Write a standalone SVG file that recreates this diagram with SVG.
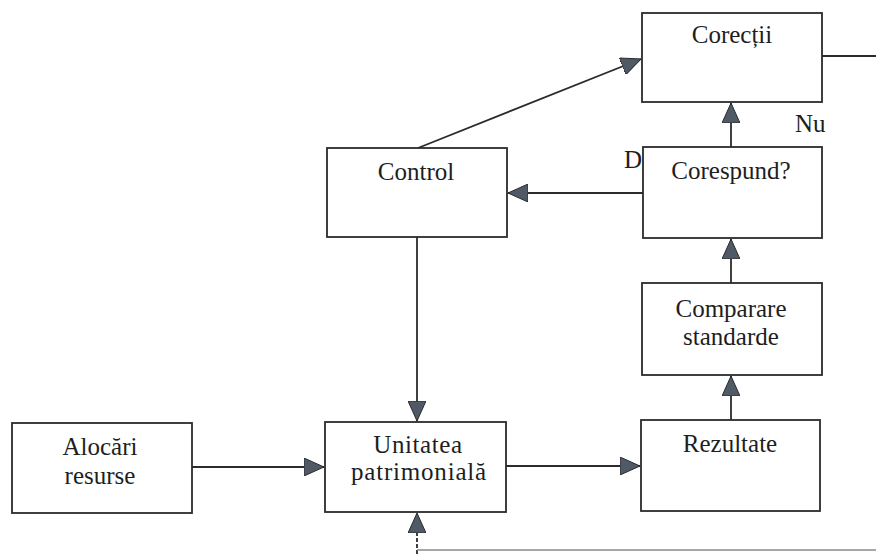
<svg xmlns="http://www.w3.org/2000/svg" width="876" height="554" viewBox="0 0 876 554">
<style>
.box{fill:#fff;stroke:#2b2b2b;stroke-width:1.8}
.t{font-family:'Liberation Serif',Tinos,'Times New Roman',Times,serif;font-size:25px;fill:#1e1e1e;text-anchor:middle}
.l{font-family:'Liberation Serif',Tinos,'Times New Roman',Times,serif;font-size:25px;fill:#1e1e1e}
.c{fill:none;stroke:#2b2b2b;stroke-width:1.8}
</style>
<defs>
<marker id="ah" markerUnits="userSpaceOnUse" markerWidth="20" markerHeight="18" refX="20" refY="9" orient="auto" viewBox="0 0 20 18">
<path d="M0,0 L20,9 L0,18 Z" fill="#4f5a66" stroke="#2b2b2b" stroke-width="1"/>
</marker>
</defs>
<rect width="876" height="554" fill="#fff"/>
<g id="connectors">
<line class="c" x1="418" y1="148" x2="641" y2="59" marker-end="url(#ah)"/>
<line class="c" x1="822" y1="56" x2="876" y2="56"/>
<line class="c" x1="731" y1="147" x2="731" y2="103" marker-end="url(#ah)"/>
<line class="c" x1="643" y1="193" x2="508" y2="193" marker-end="url(#ah)"/>
<line class="c" x1="731" y1="283" x2="731" y2="239" marker-end="url(#ah)"/>
<line class="c" x1="731" y1="420" x2="731" y2="376" marker-end="url(#ah)"/>
<line class="c" x1="417" y1="237" x2="417" y2="421" marker-end="url(#ah)"/>
<line class="c" x1="192" y1="467" x2="324" y2="467" marker-end="url(#ah)"/>
<line class="c" x1="506" y1="466" x2="640" y2="466" marker-end="url(#ah)"/>
<line class="c" x1="417" y1="554" x2="417" y2="513" stroke-dasharray="4 2" marker-end="url(#ah)"/>
<line x1="417" y1="550" x2="876" y2="550" stroke="#8a8a8a" stroke-width="1.5"/>
</g>
<g id="corectii">
<rect class="box" x="642" y="13" width="180" height="89"/>
<text class="t" x="732" y="43">Corecții</text>
</g>
<g id="label-nu"><text class="l" x="795" y="132">Nu</text></g>
<g id="label-d"><text class="l" x="624" y="168">D</text></g>
<g id="corespund">
<rect class="box" x="643" y="147" width="179" height="91"/>
<text class="t" x="731" y="179">Corespund?</text>
</g>
<g id="control">
<rect class="box" x="327" y="148" width="180" height="89"/>
<text class="t" x="416" y="180">Control</text>
</g>
<g id="comparare">
<rect class="box" x="642" y="283" width="180" height="92"/>
<text class="t" x="731" y="317">Comparare</text>
<text class="t" x="731" y="345">standarde</text>
</g>
<g id="alocari">
<rect class="box" x="12" y="423" width="180" height="90"/>
<text class="t" x="100" y="455">Alocări</text>
<text class="t" x="100" y="484">resurse</text>
</g>
<g id="unitatea">
<rect class="box" x="325" y="422" width="181" height="90"/>
<text class="t" x="418" y="453" letter-spacing="0.6">Unitatea</text>
<text class="t" x="419" y="480" letter-spacing="0.8">patrimonială</text>
</g>
<g id="rezultate">
<rect class="box" x="641" y="420" width="179" height="91"/>
<text class="t" x="730" y="452">Rezultate</text>
</g>
</svg>
